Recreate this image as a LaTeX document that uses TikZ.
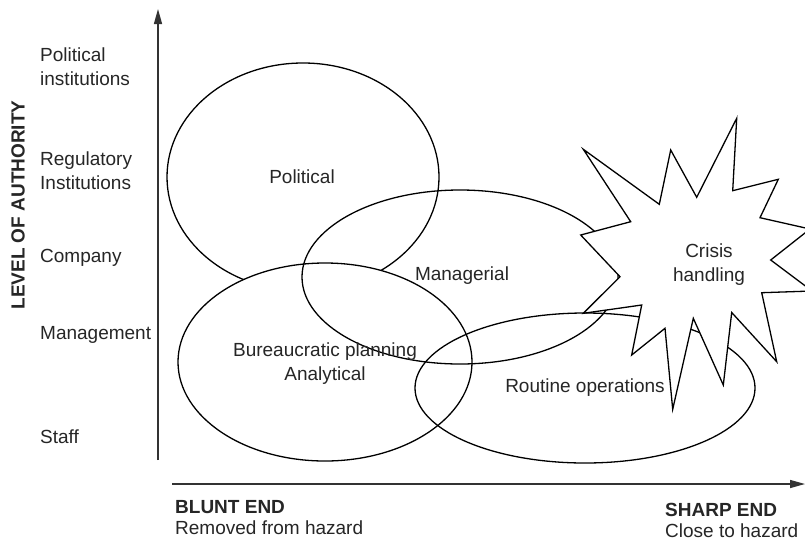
\documentclass[tikz,border=0pt]{standalone}
\usepackage{fontspec}
\setmainfont{Liberation Sans}
\usetikzlibrary{arrows.meta}
\begin{document}
\begin{tikzpicture}[x=1pt,y=-1pt,
  lbl/.style={font=\fontsize{19}{24}\selectfont, text=black!85, inner sep=0pt},
  bold/.style={lbl, font=\fontsize{19}{24}\selectfont\bfseries},
  shapeline/.style={line width=1.3pt, draw=black},
  axis/.style={line width=1.4pt, draw=black!80, -{Triangle[length=15pt,width=8pt]}}]
\useasboundingbox (0,0) rectangle (805,547);
\clip (0,0) rectangle (805,547);
\fill[white] (0,0) rectangle (805,547);

% axes
\coordinate (vbot) at (158,460);
\coordinate (vtop) at (158,9);
\coordinate (hleft) at (172,484);
\coordinate (hright) at (805,484);
\draw[axis] (vbot) -- (vtop);
\draw[axis] (hleft) -- (hright);

% ellipses
\draw[shapeline, fill=white] (303,177) ellipse [x radius=136pt, y radius=114pt];
\draw[shapeline, fill=white] (325,362) ellipse [x radius=147pt, y radius=99pt];
\draw[shapeline] (460,277) ellipse [x radius=158pt, y radius=87pt];
\draw[shapeline] (585,388) ellipse [x radius=170pt, y radius=75pt];

% star
\draw[shapeline, fill=white, line join=miter]
  (736.7,118.3) -- (732.7,190.7) -- (778.3,179.3) -- (760,217.7) -- (810,229)
  -- (770.7,260) -- (812,291) -- (761.7,292.7) -- (776.7,361.7) -- (731.7,312.5)
  -- (723.3,385) -- (693.3,318.3) -- (672.7,409.3) -- (665,328.3) -- (631.7,355)
  -- (641.7,305) -- (583.3,313.3) -- (620,276.7) -- (580.7,235) -- (630.7,221.7)
  -- (583.3,149.3) -- (659.3,204.3) -- (670.7,150) -- (696.7,197.3) -- cycle;

% region labels
\node[lbl] (political) at (302,177) {Political};
\node[lbl] (managerial) at (462,276) {Managerial};
\node[lbl, align=center] (bureau) at (325,364) {Bureaucratic planning\\Analytical};
\node[lbl] (routine) at (585,388) {Routine operations};
\node[lbl, align=center] (crisis) at (709,265) {Crisis\\handling};

% level labels
\node[lbl, anchor=west, align=left] (polinst) at (40,67) {Political\\institutions};
\node[lbl, anchor=west, align=left] (reginst) at (40,171) {Regulatory\\Institutions};
\node[lbl, anchor=west] (company) at (40,258) {Company};
\node[lbl, anchor=west] (management) at (40,335) {Management};
\node[lbl, anchor=west] (staff) at (40,437) {Staff};
\node[bold, rotate=90] (authority) at (18,205) {LEVEL OF AUTHORITY};

% end labels
\node[bold, anchor=west] (blunt) at (175,507) {BLUNT END};
\node[lbl, anchor=west] (removed) at (175,528) {Removed from hazard};
\node[bold, anchor=west] (sharp) at (665,510) {SHARP END};
\node[lbl, anchor=west] (close) at (665,531) {Close to hazard};
\end{tikzpicture}
\end{document}
